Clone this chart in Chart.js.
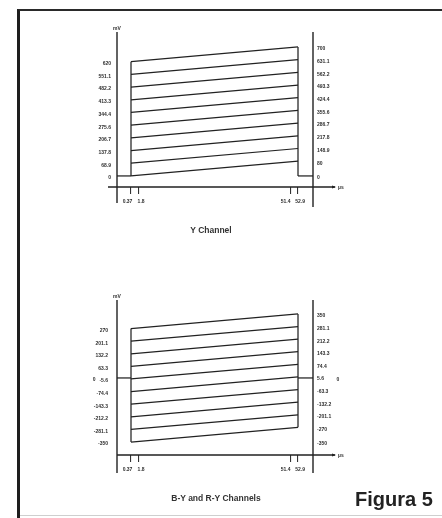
<!DOCTYPE html>
<html><head><meta charset="utf-8">
<script src="https://cdn.jsdelivr.net/npm/chart.js@4.4.1/dist/chart.umd.min.js"></script>
<style>
html,body{margin:0;padding:0;background:#fff;}
body{width:442px;height:518px;position:relative;overflow:hidden;font-family:"Liberation Sans",Arial,sans-serif;}
canvas{position:absolute;left:0;}
#c1{top:0}
#c2{top:250px}
.frame{position:absolute;left:17px;top:9px;width:425px;height:509px;border-left:3px solid #1e1e1e;border-top:2px solid #2a2a2a;box-sizing:border-box;}
.bottomline{position:absolute;left:20px;top:515px;width:422px;height:1px;background:#cfcfcf;}
.title{position:absolute;font-weight:bold;font-size:8.5px;color:#333;white-space:nowrap;transform:translate(-50%,-50%);}
.fig{position:absolute;left:355px;top:488px;font-weight:bold;font-size:20px;color:#222;line-height:23px;}
</style></head><body>
<div class="frame"></div>
<div class="bottomline"></div>
<canvas id="c1" width="442" height="250"></canvas>
<canvas id="c2" width="442" height="268"></canvas>
<div class="title" style="left:211px;top:230px">Y Channel</div>
<div class="title" style="left:216px;top:498px">B-Y and R-Y Channels</div>
<div class="fig">Figura 5</div>
<script>
// ---- x axis (µs) ----
const xTickLabels = ['0.37', '1.8', '51.4', '52.9'];
const xTickTimes = [0.37, 1.8, 51.4, 52.9];
const tStart = 0.37, tEnd = 52.9, tLine = 64;

// ---- Y channel (mV) ----
const yStartLevels = [0, 68.9, 137.8, 206.7, 275.6, 344.4, 413.3, 482.2, 551.1, 620];
const yEndLevels   = [80, 148.9, 217.8, 286.7, 355.6, 424.4, 493.3, 562.2, 631.1, 700];
const yBlank = 0;
const yLeftTicks  = [0, 68.9, 137.8, 206.7, 275.6, 344.4, 413.3, 482.2, 551.1, 620];
const yRightTicks = [0, 80, 148.9, 217.8, 286.7, 355.6, 424.4, 493.3, 562.2, 631.1, 700];

// ---- B-Y and R-Y channels (mV) ----
const cStartLevels = [270, 201.1, 132.2, 63.3, -5.6, -74.4, -143.3, -212.2, -281.1, -350];
const cEndLevels   = [350, 281.1, 212.2, 143.3, 74.4, 5.6, -63.3, -132.2, -201.1, -270];
const cBlank = 0;
const cLeftTicks  = [270, 201.1, 132.2, 63.3, -5.6, -74.4, -143.3, -212.2, -281.1, -350];
const cRightTicks = [350, 281.1, 212.2, 143.3, 74.4, 5.6, -63.3, -132.2, -201.1, -270, -350];

// Schematic (broken) time axis: the drawing is not to scale in time.
const KT = [0, 0.37, 1.8, 51.4, 52.9, 64];
const KU = [0, 14, 22, 173.5, 181, 196];
function u(t){
  for (let i = 1; i < KT.length; i++) {
    if (t <= KT[i]) return KU[i-1] + (t - KT[i-1]) / (KT[i] - KT[i-1]) * (KU[i] - KU[i-1]);
  }
  return KU[KU.length - 1];
}
// paired close ticks: first label pushed left, second pushed right
function xLabel(i){
  const s = xTickLabels[i];
  return i % 2 === 0 ? s + ' '.repeat(i === 0 ? 5 : 7) : ' '.repeat(3) + s;
}

function buildDatasets(starts, ends, blank){
  const lo = Math.min(blank, ...starts), hi = Math.max(blank, ...starts);
  const loE = Math.min(blank, ...ends), hiE = Math.max(blank, ...ends);
  const ds = [];
  ds.push({data:[{x:u(0),y:blank},{x:u(tStart),y:blank}]});
  ds.push({data:[{x:u(tStart),y:lo},{x:u(tStart),y:hi}]});
  starts.forEach((s,i)=> ds.push({data:[{x:u(tStart),y:s},{x:u(tEnd),y:ends[i]}]}));
  ds.push({data:[{x:u(tEnd),y:hiE},{x:u(tEnd),y:loE}]});
  ds.push({data:[{x:u(tEnd),y:blank},{x:u(tLine),y:blank}]});
  return ds.map(d => Object.assign(d, {showLine:true, borderColor:'#222', borderWidth:1.25,
    pointRadius:0, fill:false, tension:0}));
}

const tickFont = {family:'"Liberation Sans", Arial, sans-serif', size:5, weight:'bold'};
const tickColor = '#2e2e2e';

const axesPlugin = {
  id:'axes',
  afterDraw(chart, args, o){
    const {ctx, chartArea:a} = chart;
    ctx.save();
    ctx.strokeStyle = '#222'; ctx.lineWidth = 1.4;
    ctx.beginPath();
    ctx.moveTo(a.left, a.top); ctx.lineTo(a.left, a.bottom + o.extL);
    ctx.moveTo(a.right, a.top); ctx.lineTo(a.right, a.bottom + o.extR);
    ctx.moveTo(a.left - o.xStart, a.bottom); ctx.lineTo(a.right + 22, a.bottom);
    ctx.stroke();
    ctx.fillStyle = '#222';
    ctx.beginPath();
    ctx.moveTo(a.right + 23, a.bottom);
    ctx.lineTo(a.right + 19, a.bottom - 1.6);
    ctx.lineTo(a.right + 19, a.bottom + 1.6);
    ctx.closePath(); ctx.fill();
    ctx.fillStyle = '#2e2e2e';
    ctx.font = 'bold 5px "Liberation Sans", Arial, sans-serif';
    ctx.textAlign = 'center'; ctx.textBaseline = 'bottom';
    ctx.fillText('mV', a.left, a.top - 1);
    ctx.textAlign = 'left'; ctx.textBaseline = 'middle';
    ctx.fillText('µs', a.right + 25, a.bottom + 1);
    ctx.restore();
  }
};

function makeChart(id, cfg){
  const fmtL = v => (v === 0 && cfg.zeroLeftPad) ? '0' + ' '.repeat(cfg.zeroLeftPad) : String(v);
  const fmtR = v => (v === 0 && cfg.zeroRightPad) ? ' '.repeat(cfg.zeroRightPad) + '0' : String(v);
  return new Chart(document.getElementById(id), {
    type:'scatter',
    data:{datasets: buildDatasets(cfg.starts, cfg.ends, cfg.blank)},
    plugins:[axesPlugin],
    options:{
      responsive:false, animation:false, devicePixelRatio:1, events:[],
      layout:{padding:{left:0, top:cfg.top, right:442-313-40, bottom:cfg.h - cfg.bottom - 30}},
      plugins:{legend:{display:false}, tooltip:{enabled:false},
        axes:{extL:cfg.extL, extR:cfg.extR, xStart:cfg.xStart}},
      scales:{
        x:{type:'linear', position:'bottom', min:0, max:196,
          afterBuildTicks: s => { s.ticks = xTickTimes.map(t => ({value:u(t)})); },
          afterFit: s => { s.height = 30; },
          ticks:{autoSkip:false, maxRotation:0, minRotation:0, padding:5, font:tickFont, color:tickColor,
            callback:(v,i) => xLabel(i)},
          grid:{display:true, drawOnChartArea:false, drawTicks:true, tickLength:7, color:'#333', lineWidth:1.1},
          border:{display:false}},
        y:{type:'linear', position:'left', min:cfg.min, max:cfg.max,
          afterBuildTicks: s => { s.ticks = cfg.leftTicks.map(v => ({value:v})); },
          afterFit: s => { s.width = 117; },
          ticks:{autoSkip:false, padding:cfg.padL, labelOffset:2, font:tickFont, color:tickColor, callback:fmtL},
          grid:{display:false, drawTicks:false}, border:{display:false}},
        y2:{type:'linear', position:'right', min:cfg.min, max:cfg.max,
          afterBuildTicks: s => { s.ticks = cfg.rightTicks.map(v => ({value:v})); },
          afterFit: s => { s.width = 40; },
          ticks:{autoSkip:false, padding:4, labelOffset:2, font:tickFont, color:tickColor, callback:fmtR},
          grid:{display:false, drawTicks:false}, border:{display:false}}
      }
    }
  });
}

makeChart('c1', {starts:yStartLevels, ends:yEndLevels, blank:yBlank,
  leftTicks:yLeftTicks, rightTicks:yRightTicks,
  min:-60, max:781, top:32, bottom:187, h:250, padL:6, extL:16, extR:20, xStart:9});

makeChart('c2', {starts:cStartLevels, ends:cEndLevels, blank:cBlank,
  leftTicks:cLeftTicks.concat([cBlank]), rightTicks:cRightTicks.concat([cBlank]),
  zeroLeftPad:9, zeroRightPad:14,
  min:-421, max:426, top:50, bottom:205, h:268, padL:9, extL:18, extR:18, xStart:0});
</script>
</body></html>
